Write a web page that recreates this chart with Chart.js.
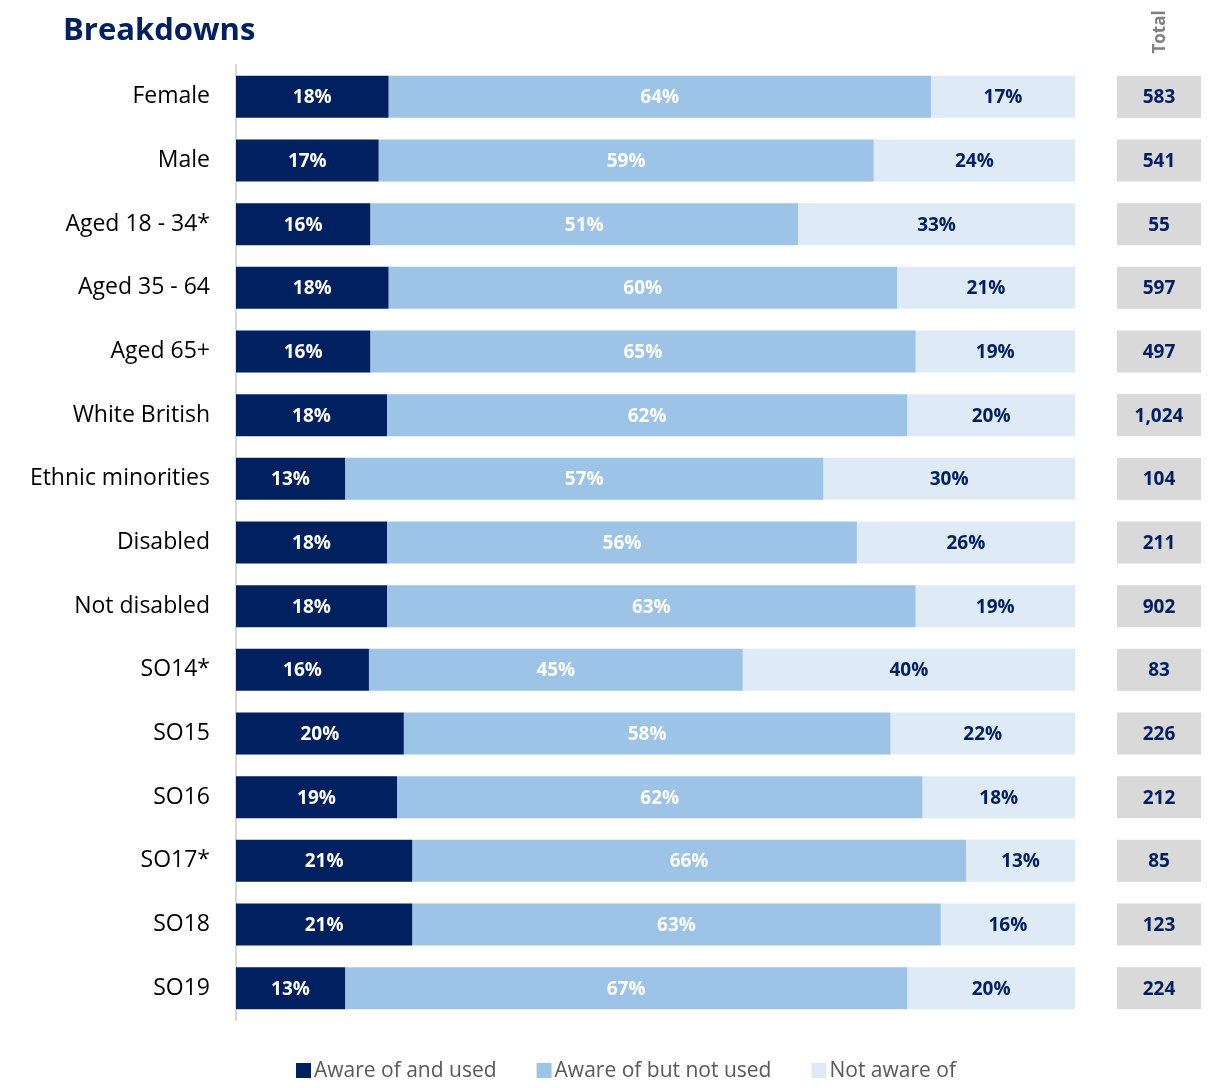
<!DOCTYPE html>
<html>
<head>
<meta charset="utf-8">
<script src="https://cdn.jsdelivr.net/npm/chart.js@4.4.1/dist/chart.umd.min.js"></script>
<style>
  body { margin: 0; background: #fff; }
  #wrap { width: 1217px; height: 1088px; }
</style>
</head>
<body>
<div id="wrap"><canvas id="chart" width="1217" height="1088"></canvas></div>
<script>
// rows of the breakdown
const categories = ['Female', 'Male', 'Aged 18 - 34*', 'Aged 35 - 64', 'Aged 65+', 'White British',
  'Ethnic minorities', 'Disabled', 'Not disabled', 'SO14*', 'SO15', 'SO16', 'SO17*', 'SO18', 'SO19'];
const awareUsed    = [18, 17, 16, 18, 16, 18, 13, 18, 18, 16, 20, 19, 21, 21, 13];
const awareNotUsed = [64, 59, 51, 60, 65, 62, 57, 56, 63, 45, 58, 62, 66, 63, 67];
const notAware     = [17, 24, 33, 21, 19, 20, 30, 26, 19, 40, 22, 18, 13, 16, 20];
const totals       = [583, 541, 55, 597, 497, 1024, 104, 211, 902, 83, 226, 212, 85, 123, 224];
const seriesNames  = ['Aware of and used', 'Aware of but not used', 'Not aware of'];

const FONT = '"Open Sans", "Noto Sans", sans-serif';
const NAVY = '#002060';

// each bar is a 100% stack, so scale the rounded shares by the row sum
const rowSum = awareUsed.map((v, i) => v + awareNotUsed[i] + notAware[i]);
const share = arr => arr.map((v, i) => v / rowSum[i] * 100);
const raw = [awareUsed, awareNotUsed, notAware];

// % text inside each segment, totals column, title and legend
const extras = {
  id: 'extras',
  afterDatasetsDraw(chart) {
    const ctx = chart.ctx;
    const y = chart.scales.y;
    ctx.save();
    ctx.textAlign = 'center';
    ctx.textBaseline = 'middle';
    ctx.font = 'bold 19px ' + FONT;
    chart.data.datasets.forEach((ds, d) => {
      chart.getDatasetMeta(d).data.forEach((bar, i) => {
        ctx.fillStyle = ds.labelColor;
        ctx.fillText(raw[d][i] + '%', (bar.base + bar.x) / 2, bar.y + 1);
      });
    });

    // totals
    const bars = chart.getDatasetMeta(0).data;
    totals.forEach((t, i) => {
      const cy = y.getPixelForValue(i);
      const h = bars[i].height;
      ctx.fillStyle = '#d9d9d9';
      ctx.fillRect(1117, cy - h / 2, 84, h);
      ctx.fillStyle = NAVY;
      ctx.font = 'bold 19px ' + FONT;
      ctx.fillText(t.toLocaleString('en-GB'), 1159, cy + 1);
    });

    // rotated column header
    ctx.save();
    ctx.translate(1160, 32);
    ctx.rotate(-Math.PI / 2);
    ctx.fillStyle = '#7f7f7f';
    ctx.font = 'bold 17px ' + FONT;
    ctx.fillText('Total', 0, 0);
    ctx.restore();

    // title
    ctx.textAlign = 'left';
    ctx.fillStyle = NAVY;
    ctx.font = 'bold 31px ' + FONT;
    ctx.fillText('Breakdowns', 63, 31);

    // legend
    ctx.font = '21px ' + FONT;
    let x = 296;
    chart.data.datasets.forEach(ds => {
      ctx.fillStyle = ds.backgroundColor;
      ctx.fillRect(x, 1063, 15, 15);
      ctx.fillStyle = '#595959';
      ctx.fillText(ds.label, x + 18, 1071);
      x += 18 + ctx.measureText(ds.label).width + 40;
    });
    ctx.restore();
  }
};

new Chart('chart', {
  type: 'bar',
  data: {
    labels: categories,
    datasets: [
      { label: seriesNames[0], data: share(awareUsed), backgroundColor: NAVY, labelColor: '#ffffff' },
      { label: seriesNames[1], data: share(awareNotUsed), backgroundColor: '#9dc3e6', labelColor: '#ffffff' },
      { label: seriesNames[2], data: share(notAware), backgroundColor: '#deebf7', labelColor: NAVY }
    ]
  },
  options: {
    indexAxis: 'y',
    responsive: false,
    animation: false,
    barPercentage: 0.66,
    categoryPercentage: 1,
    layout: { padding: { top: 65, right: 142, bottom: 68, left: 0 } },
    plugins: {
      legend: { display: false },
      tooltip: { enabled: false }
    },
    scales: {
      x: { stacked: true, min: 0, max: 100, display: false },
      y: {
        stacked: true,
        afterFit(scale) { scale.width = 236; },
        grid: { display: false },
        border: { display: true, color: '#d9d9d9', width: 2 },
        ticks: { color: '#000', padding: 18, font: { family: FONT, size: 23 } }
      }
    }
  },
  plugins: [extras]
});
</script>
</body>
</html>
